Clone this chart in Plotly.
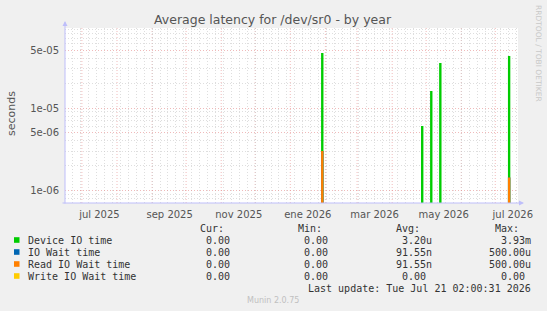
import plotly.graph_objects as go

# ---------------- data ----------------
spike_dates = ["2026-01-29 06:00", "2026-04-27 12:00", "2026-05-05 12:00",
               "2026-05-13 12:00", "2026-07-13 06:00"]
device_io_time = [4.65e-5, 6.07e-6, 1.61e-5, 3.52e-5, 4.28e-5]
io_wait_time = [3.03e-6, 0, 0, 0, 1.44e-6]
read_io_wait_time = [3.03e-6, 0, 0, 0, 1.44e-6]
write_io_wait_time = [0, 0, 0, 0, 0]

series_names = ["Device IO time", "IO Wait time", "Read IO Wait time", "Write IO Wait time"]
series_colors = ["#00cc00", "#0066b3", "#ff8000", "#ffcc00"]
cur_vals = ["0.00", "0.00", "0.00", "0.00"]
min_vals = ["0.00", "0.00", "0.00", "0.00"]
avg_vals = ["3.20u", "91.55n", "91.55n", "0.00"]
max_vals = ["3.93m", "500.00u", "500.00u", "0.00"]

x_start = "2025-06-16 02:00:31"
x_end = "2026-07-21 02:00:31"
month_labels = ["jul 2025", "sep 2025", "nov 2025", "ene 2026", "mar 2026", "may 2026", "jul 2026"]
month_label_pos = ["2025-07-16 12:00", "2025-09-16 12:00", "2025-11-16 12:00", "2026-01-16 12:00",
                   "2026-03-16 12:00", "2026-05-16 12:00", "2026-07-16 12:00"]
month_starts = ["2025-07-01", "2025-08-01", "2025-09-01", "2025-10-01", "2025-11-01", "2025-12-01",
                "2026-01-01", "2026-02-01", "2026-03-01", "2026-04-01", "2026-05-01", "2026-06-01",
                "2026-07-01"]
y_tickvals = [1e-6, 5e-6, 1e-5, 5e-5]
y_ticktext = ["1e-06", "5e-06", "1e-05", "5e-05"]
y_range_log = [-6.149, -4.031]

# ---------------- layout geometry ----------------
W, H = 547, 311
L, R, T, B = 65, 518, 28, 203
PW, PH = R - L, B - T


def px(xp):
    return (xp - L) / PW


def py(yp):
    return (B - yp) / PH


MAJOR = "rgba(230,140,140,0.6)"
MINOR = "rgba(200,200,200,0.6)"
DOT = "1px,2px"
TXT = "#555555"

fig = go.Figure()

bar_w = 2.1 * 86400000


def pos(vals):
    return [v if v > 0 else None for v in vals]


for name, vals, col in zip(series_names,
                           [device_io_time, io_wait_time, read_io_wait_time, write_io_wait_time],
                           series_colors):
    fig.add_trace(go.Bar(x=spike_dates, y=pos(vals), name=name, marker_color=col,
                         marker_line_width=0, width=bar_w, showlegend=False))

# minor y grid values
minor_y = []
for e in range(-7, -3):
    for k in range(1, 10):
        v = k * 10 ** e
        if not any(abs(v - t) / t < 1e-9 for t in y_tickvals):
            minor_y.append(v)

fig.update_layout(
    width=W, height=H,
    margin=dict(l=L, r=W - R, t=T, b=H - B),
    paper_bgcolor="#f0f0f0", plot_bgcolor="#ffffff",
    barmode="overlay",
    showlegend=False,
    font=dict(family="DejaVu Sans", size=10, color=TXT),
    xaxis=dict(
        type="date", range=[x_start, x_end],
        tickmode="array", tickvals=month_label_pos, ticktext=month_labels,
        showgrid=False, zeroline=False, showline=False,
        ticks="outside", ticklen=2, tickcolor="rgba(0,0,0,0)",
        tickfont=dict(family="DejaVu Sans", size=10, color=TXT),
        minor=dict(dtick=7 * 86400000, tick0="2025-06-16", showgrid=True,
                   gridcolor=MINOR, griddash=DOT, gridwidth=1, ticks=""),
    ),
    yaxis=dict(
        type="log", range=y_range_log,
        tickmode="array", tickvals=y_tickvals, ticktext=y_ticktext,
        showgrid=True, gridcolor=MAJOR, griddash=DOT, gridwidth=1,
        zeroline=False, showline=False,
        ticks="outside", ticklen=3, tickcolor="rgba(0,0,0,0)",
        tickfont=dict(family="DejaVu Sans", size=10, color=TXT),
        minor=dict(tickmode="array", tickvals=minor_y, showgrid=True,
                   gridcolor=MINOR, griddash=DOT, gridwidth=1, ticks=""),
        title=None,
    ),
)

shapes = []
for m in month_starts:
    shapes.append(dict(type="line", xref="x", yref="paper", x0=m, x1=m, y0=0, y1=1,
                       line=dict(color=MAJOR, width=1, dash=DOT), layer="between"))

# legend squares
row_y = [240, 252, 264, 276]
for yy, col in zip(row_y, series_colors):
    shapes.append(dict(type="rect", xref="paper", yref="paper",
                       x0=px(14), x1=px(19.5), y0=py(yy + 2.8), y1=py(yy - 2.8),
                       fillcolor=col, line=dict(width=0), layer="above"))
fig.update_layout(shapes=shapes)

ann = []
AX = "rgb(190,190,250)"
# axis arrows
ann.append(dict(xref="paper", yref="paper", x=px(L), y=py(21), ax=0, ay=B - 21 + 2,
                axref="pixel", ayref="pixel", text="", showarrow=True, arrowhead=2,
                arrowsize=1, arrowwidth=1, arrowcolor=AX))
ann.append(dict(xref="paper", yref="paper", x=px(524), y=py(B), ax=-(524 - L + 4), ay=0,
                axref="pixel", ayref="pixel", text="", showarrow=True, arrowhead=2,
                arrowsize=1, arrowwidth=1, arrowcolor=AX))

# title
ann.append(dict(xref="paper", yref="paper", x=px(273), y=py(19), text="Average latency for /dev/sr0 - by year",
                showarrow=False, xanchor="center", yanchor="middle",
                font=dict(family="DejaVu Sans", size=12.5, color=TXT)))
# y title
ann.append(dict(xref="paper", yref="paper", x=px(11), y=py(114), text="seconds", textangle=-90,
                showarrow=False, xanchor="center", yanchor="middle",
                font=dict(family="DejaVu Sans", size=11, color=TXT)))
# watermark
ann.append(dict(xref="paper", yref="paper", x=px(539), y=py(53), text="RRDTOOL / TOBI OETIKER", textangle=90,
                showarrow=False, xanchor="center", yanchor="middle",
                font=dict(family="DejaVu Sans", size=7.5, color="#c8c8c8")))

MONO = dict(family="DejaVu Sans Mono", size=10, color="#333333")
col_right = [238, 336, 434.4, 533]
headers = ["Cur:", "Min:", "Avg:", "Max:"]
for h, cr in zip(headers, col_right):
    ann.append(dict(xref="paper", yref="paper", x=px(cr), y=py(228), text=h + "\u00a0\u00a0",
                    showarrow=False, xanchor="right", yanchor="middle", font=MONO))


def fmt(v):
    return v if v[-1].isalpha() else v + "\u00a0"


for i, name in enumerate(series_names):
    yy = row_y[i]
    ann.append(dict(xref="paper", yref="paper", x=px(26), y=py(yy), text=name,
                    showarrow=False, xanchor="left", yanchor="middle", font=MONO))
    for vals, cr in zip([cur_vals, min_vals, avg_vals, max_vals], col_right):
        ann.append(dict(xref="paper", yref="paper", x=px(cr), y=py(yy), text=fmt(vals[i]),
                        showarrow=False, xanchor="right", yanchor="middle", font=MONO))

ann.append(dict(xref="paper", yref="paper", x=px(533), y=py(288),
                text="Last update: Tue Jul 21 02:00:31 2026",
                showarrow=False, xanchor="right", yanchor="middle", font=MONO))
ann.append(dict(xref="paper", yref="paper", x=px(273), y=py(300), text="Munin 2.0.75",
                showarrow=False, xanchor="center", yanchor="middle",
                font=dict(family="DejaVu Sans", size=8, color="#c0c0c0")))

fig.update_layout(annotations=ann)
fig.write_html("out.html")
